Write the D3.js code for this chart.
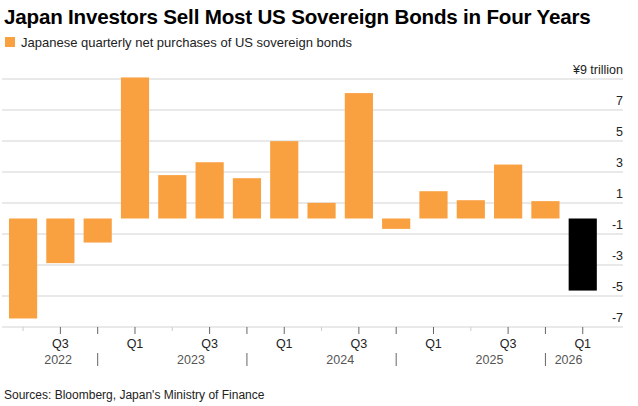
<!DOCTYPE html><html><head><meta charset="utf-8">
<script src="https://cdn.jsdelivr.net/npm/d3@7"></script>
<style>body{margin:0;background:#fff}text{font-family:"Liberation Sans",Arial,sans-serif}</style></head><body>
<svg id="c" width="638" height="406"></svg>
<script>
const quarters=["2022Q2","2022Q3","2022Q4","2023Q1","2023Q2","2023Q3","2023Q4","2024Q1","2024Q2","2024Q3","2024Q4","2025Q1","2025Q2","2025Q3","2025Q4","2026Q1"];
const values=[-6.45,-2.88,-1.55,9.1,2.8,3.63,2.6,4.99,1.01,8.09,-0.67,1.76,1.18,3.48,1.12,-4.65];
const yTicks=[9,7,5,3,1,-1,-3,-5,-7];
const years=["2022","2023","2024","2025","2026"];
const svg=d3.select("#c");
const x=d3.scaleBand().domain(quarters).range([4.5,601.3]).paddingInner(0.245).paddingOuter(0.12);
const y=d3.scaleLinear().domain([-7,9]).range([327,79]);
svg.append("text").attr("x",4).attr("y",24).attr("font-size",20.6).attr("font-weight","bold").attr("letter-spacing",-0.2).text("Japan Investors Sell Most US Sovereign Bonds in Four Years");
svg.append("rect").attr("x",5).attr("y",37).attr("width",10).attr("height",10).attr("fill","#f9a040");
svg.append("text").attr("x",21).attr("y",47).attr("font-size",13).attr("fill","#222").text("Japanese quarterly net purchases of US sovereign bonds");
yTicks.forEach(t=>{
 svg.append("line").attr("x1",2).attr("x2",623).attr("y1",y(t)).attr("y2",y(t)).attr("stroke","#e2e2e2").attr("stroke-width",1.5);
 svg.append("text").attr("x",623).attr("y",y(t)-5).attr("text-anchor","end").attr("font-size",12.5).attr("fill","#222").text(t===9?"¥9 trillion":t);
});
svg.selectAll(".b").data(values).enter().append("rect")
 .attr("x",(d,i)=>x(quarters[i])).attr("width",x.bandwidth())
 .attr("y",d=>y(Math.max(0,d))).attr("height",d=>Math.abs(y(d)-y(0)))
 .attr("fill",(d,i)=>i===values.length-1?"#000":"#f9a040");
quarters.forEach(q=>{
 const cx=x(q)+x.bandwidth()/2, qq=q.slice(4);
 svg.append("line").attr("x1",cx).attr("x2",cx).attr("y1",327).attr("y2",qq==="Q2"?331:334).attr("stroke",qq==="Q2"?"#ccc":"#666");
 if(qq==="Q1"||qq==="Q3") svg.append("text").attr("x",cx).attr("y",348).attr("text-anchor","middle").attr("font-size",12.5).attr("fill","#222").text(qq);
 if(qq==="Q4") svg.append("line").attr("x1",cx).attr("x2",cx).attr("y1",353).attr("y2",366).attr("stroke","#666");
});
years.forEach(yr=>{
 const qs=quarters.filter(q=>q.startsWith(yr));
 if(yr==="2026"){svg.append("text").attr("x",x(qs[0])-14).attr("y",364).attr("font-size",12.5).attr("fill","#555").text("2026");return;}
 let a=x(qs[0]),b=x(qs[qs.length-1])+x.bandwidth();
 if(yr==="2022")a=4.5;
 svg.append("text").attr("x",(a+b)/2).attr("y",364).attr("text-anchor","middle").attr("font-size",12.5).attr("fill","#555").text(yr);
});
svg.append("text").attr("x",4).attr("y",399).attr("font-size",12).attr("fill","#222").text("Sources: Bloomberg, Japan's Ministry of Finance");
</script></body></html>
